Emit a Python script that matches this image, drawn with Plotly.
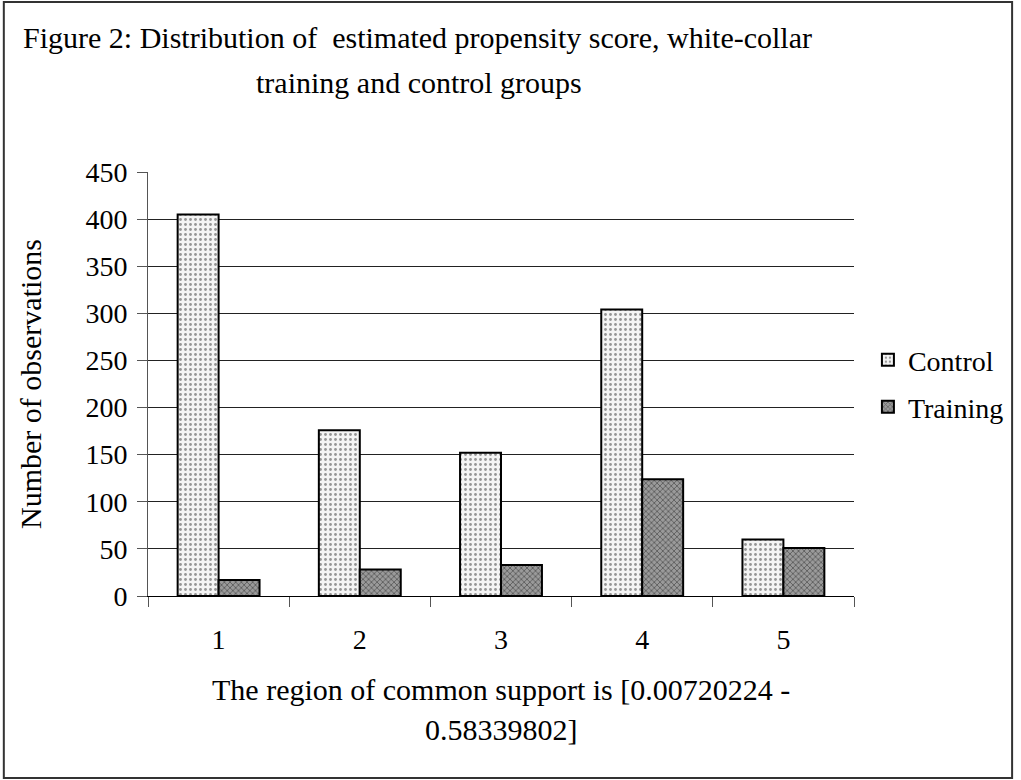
import plotly.graph_objects as go

categories = ["1", "2", "3", "4", "5"]
control = [405, 176, 152, 304, 60]
training = [17, 28, 33, 124, 51]
y_ticks = [0, 50, 100, 150, 200, 250, 300, 350, 400, 450]

FONT = "Liberation Serif"
L, R, T, B = 148, 858, 172, 596
PW, PH = R - L, B - T


def px(x):
    return (x - L) / PW


def py(y):
    return (B - y) / PH


fig = go.Figure()
fig.add_trace(go.Bar(
    x=categories, y=control, name="Control", legend="legend",
    marker=dict(color="white", line=dict(color="black", width=2),
                pattern=dict(shape=".", fgcolor="#333333", bgcolor="#f4f4f4", size=5, solidity=0.25)),
))
fig.add_trace(go.Bar(
    x=categories, y=training, name="Training", legend="legend2",
    marker=dict(color="#777777", line=dict(color="black", width=2),
                pattern=dict(shape="x", fgcolor="#222222", bgcolor="#9a9a9a", size=4, solidity=0.4)),
))

leg = dict(xanchor="left", yanchor="middle", font=dict(family=FONT, size=28),
           bgcolor="rgba(0,0,0,0)", itemwidth=30, borderwidth=0)

fig.update_layout(
    width=1021, height=780,
    margin=dict(l=L, r=1021 - R, t=T, b=780 - B),
    paper_bgcolor="white", plot_bgcolor="white",
    barmode="group", bargap=0.42, bargroupgap=0,
    font=dict(family=FONT, size=28, color="black"),
    showlegend=True,
    legend=dict(x=px(872), y=py(360), **leg),
    legend2=dict(x=px(872), y=py(407), **leg),
    xaxis=dict(
        type="category", tickson="boundaries", ticks="outside", ticklen=10,
        tickcolor="#555", showline=True, linecolor="black", linewidth=1,
        showgrid=False, ticklabelstandoff=18,
        tickfont=dict(family=FONT, size=28),
    ),
    yaxis=dict(
        range=[0, 450], tickvals=y_ticks, ticks="outside", ticklen=10,
        tickcolor="#555", showline=True, linecolor="#555", linewidth=1,
        showgrid=True, gridcolor="#222", gridwidth=1, zeroline=False,
        tickfont=dict(family=FONT, size=28), ticklabelstandoff=4,
        title=dict(text="Number of observations", font=dict(family=FONT, size=30), standoff=34),
    ),
)

fig.add_annotation(xref="paper", yref="paper", x=px(20), y=py(38),
                   xanchor="left", yanchor="middle", showarrow=False,
                   text="Figure 2: Distribution of&nbsp; estimated propensity score, white-collar",
                   font=dict(family=FONT, size=30))
fig.add_annotation(xref="paper", yref="paper", x=px(255), y=py(82),
                   xanchor="left", yanchor="middle", showarrow=False,
                   text="training and control groups",
                   font=dict(family=FONT, size=30))
fig.add_annotation(xref="paper", yref="paper", x=px(503), y=py(689),
                   xanchor="center", yanchor="middle", showarrow=False,
                   text="The region of common support is [0.00720224 -",
                   font=dict(family=FONT, size=30))
fig.add_annotation(xref="paper", yref="paper", x=px(503), y=py(729),
                   xanchor="center", yanchor="middle", showarrow=False,
                   text="0.58339802]",
                   font=dict(family=FONT, size=30))

fig.add_shape(type="rect", xref="paper", yref="paper",
              x0=px(3), x1=px(1017), y0=py(778), y1=py(2),
              line=dict(color="#333", width=2), fillcolor="rgba(0,0,0,0)")

fig.write_html("out.html", config={"displayModeBar": False},
               post_script="document.body.style.margin='0';document.body.style.overflow='hidden';")
